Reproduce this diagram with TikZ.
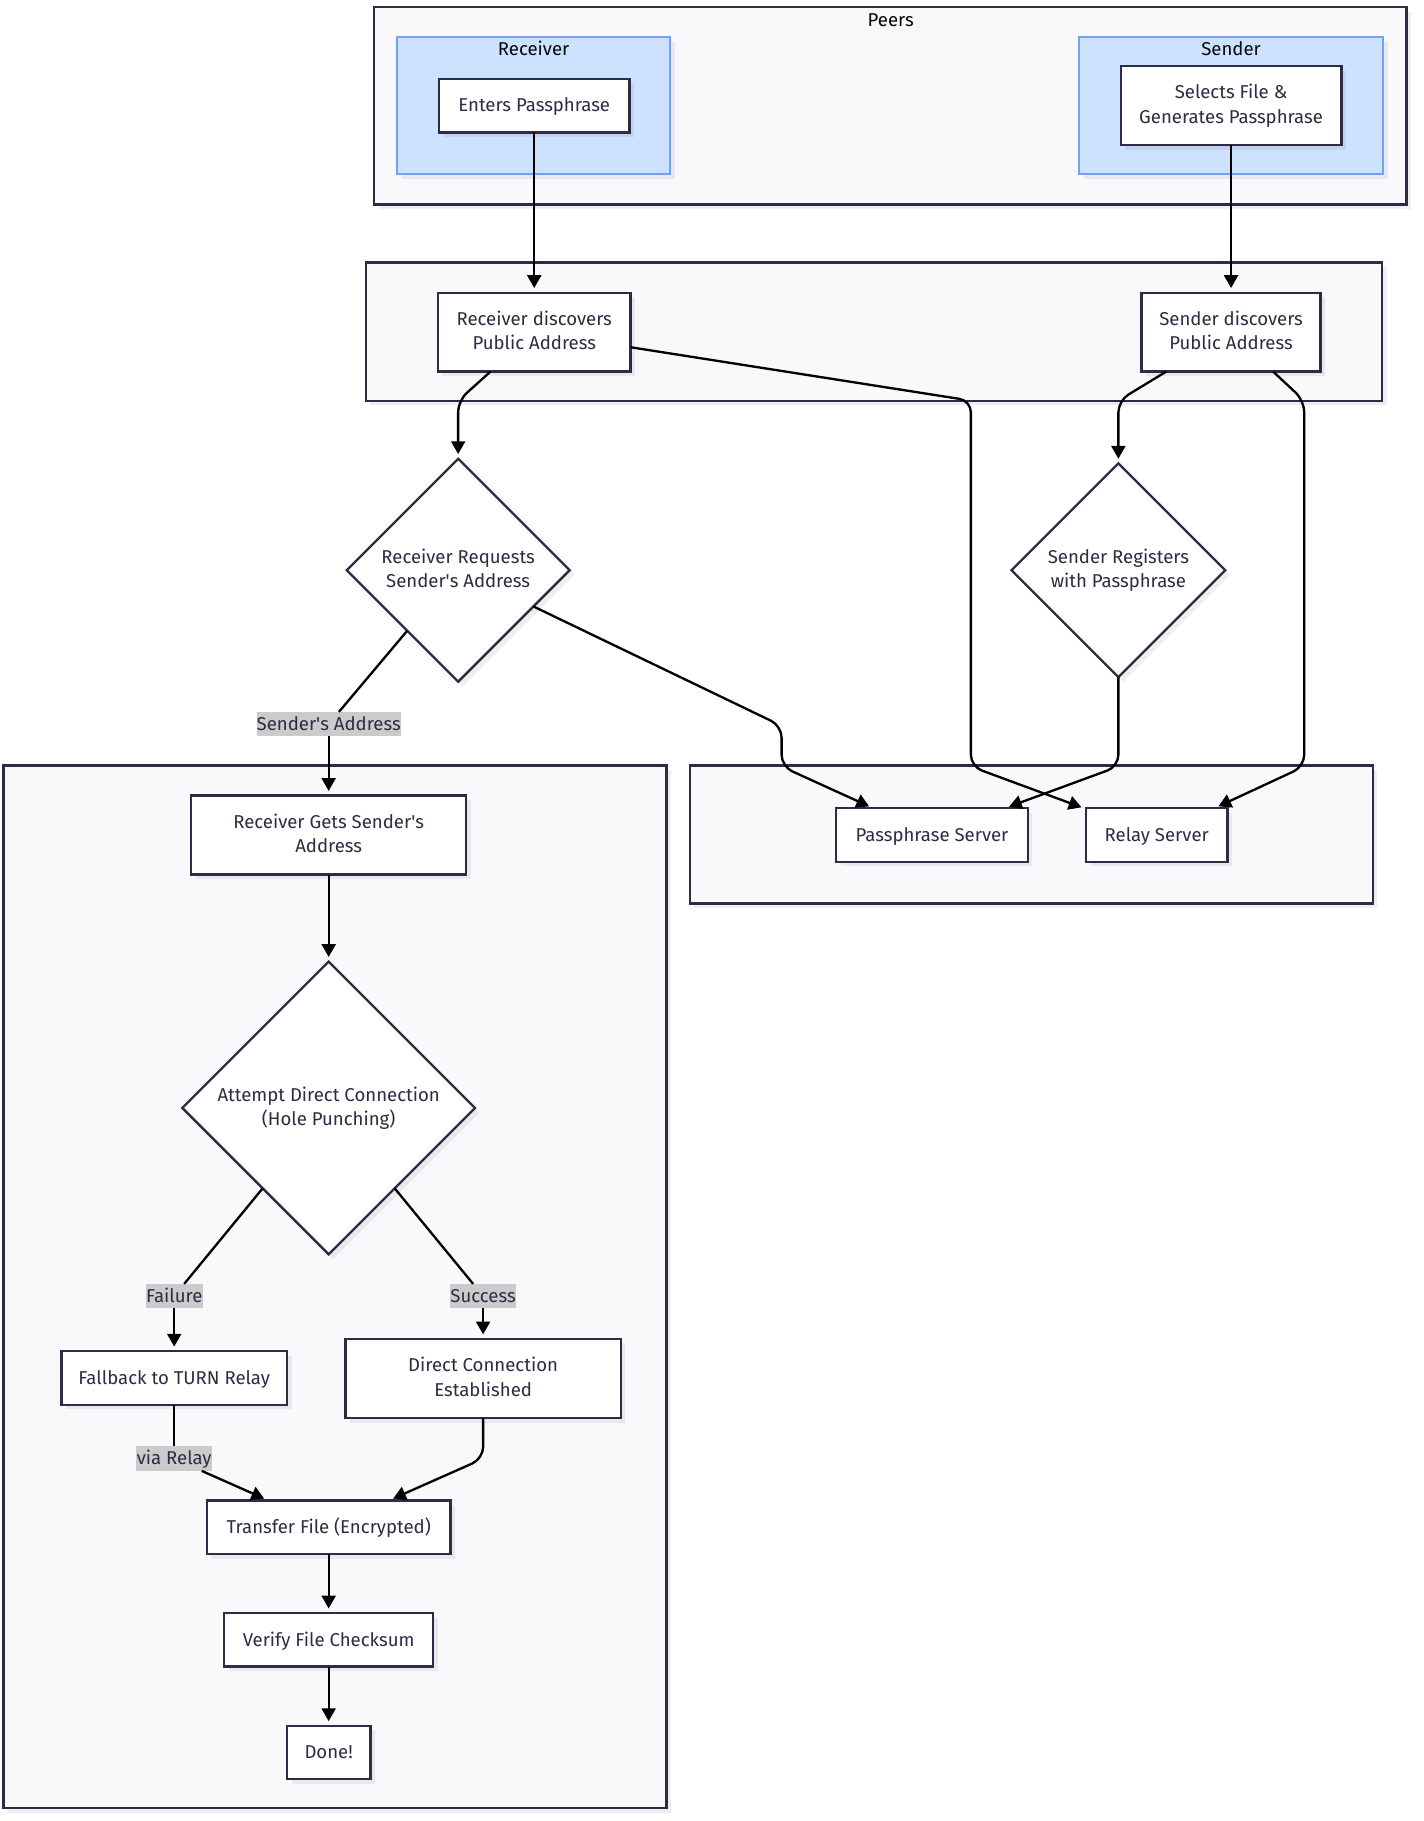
\documentclass[tikz,border=0pt]{standalone}
\usepackage{fontspec}
\setmainfont{Fira Sans}
\usetikzlibrary{
    arrows.meta,
    shadows,
    shapes.geometric
}
\definecolor{inkdark}{HTML}{2C2C44}
\definecolor{groupfill}{HTML}{F9F9FC}
\definecolor{peerfill}{HTML}{CCE2FF}
\definecolor{peerline}{HTML}{74A2F2}
\definecolor{labelfill}{HTML}{CBCBCB}
\tikzset{
    softshadow/.style = {
        drop shadow = {shadow xshift = 4pt, shadow yshift = -4pt, fill = inkdark, opacity = 0.08}
    },
    every node/.style = {
        outer sep = 0pt,
        inner sep = 0pt,
        align = center,
        text = inkdark,
        font = \fontsize{16}{21}\selectfont,
        execute at begin node = {\rule{0pt}{14pt}},
        execute at end node = {\rule[-3pt]{0pt}{3pt}}
    },
    groupbox/.style = {
        draw = inkdark,
        line width = 2pt,
        fill = groupfill,
        softshadow
    },
    peerbox/.style = {
        draw = peerline,
        line width = 2pt,
        fill = peerfill,
        softshadow
    },
    procbox/.style = {
        draw = inkdark,
        line width = 2pt,
        fill = white,
        softshadow
    },
    choicebox/.style = {
        procbox,
        shape = diamond,
        aspect = 1
    },
    titletext/.style = {
        text = black!85!inkdark
    },
    edgelabel/.style = {
        fill = labelfill,
        minimum height = 21pt
    },
    edgeline/.style = {
        draw = black,
        line width = 2pt,
        rounded corners = 10pt
    },
    flow/.style = {
        edgeline,
        -{Triangle[length = 11pt, width = 12pt]},
        shorten > = 4pt
    }
}

\begin{document}
\begin{tikzpicture}[x = 1pt, y = -1pt]

    \useasboundingbox (0, 0) rectangle (1225.3, 1568);

    \node[groupbox, minimum width = 889pt, minimum height = 170pt] (peers) at (766.5, 91) {};
    \node[titletext] (peersTitle) at (767, 17) {Peers};
    \node[peerbox, minimum width = 235pt, minimum height = 118pt] (receiver) at (459.5, 91) {};
    \node[titletext] (receiverTitle) at (459.5, 42) {Receiver};
    \node[peerbox, minimum width = 262pt, minimum height = 118pt] (sender) at (1060, 91) {};
    \node[titletext] (senderTitle) at (1060, 42) {Sender};

    \node[groupbox, minimum width = 875pt, minimum height = 119pt] (discovery) at (752.5, 285.5) {};
    \node[groupbox, minimum width = 588pt, minimum height = 119pt] (servers) at (888, 718.5) {};
    \node[groupbox, minimum width = 571pt, minimum height = 898pt] (transfer) at (288.5, 1108) {};

    \node[procbox, minimum width = 164pt, minimum height = 46pt] (enters) at (460, 91) {Enters Passphrase};
    \node[procbox, minimum width = 190pt, minimum height = 68pt] (selects) at (1060, 91) {Selects File \&\\Generates Passphrase};
    \node[procbox, minimum width = 166pt, minimum height = 68pt] (recvDisc) at (460, 286) {Receiver discovers\\Public Address};
    \node[procbox, minimum width = 154pt, minimum height = 68pt] (sendDisc) at (1060, 286) {Sender discovers\\Public Address};

    \node[choicebox, minimum width = 192pt, minimum height = 192pt] (recvReq) at (394.5, 491) {Receiver Requests\\Sender\textquotesingle s Address};
    \node[choicebox, minimum width = 184pt, minimum height = 184pt] (sendReg) at (963, 491) {Sender Registers\\with Passphrase};

    \node[procbox, minimum width = 165pt, minimum height = 46pt] (passServer) at (802.5, 719) {Passphrase Server};
    \node[procbox, minimum width = 122pt, minimum height = 46pt] (relayServer) at (996, 719) {Relay Server};

    \node[procbox, minimum width = 237pt, minimum height = 68pt] (recvGets) at (283, 719) {Receiver Gets Sender\textquotesingle s\\Address};
    \node[choicebox, minimum width = 252pt, minimum height = 252pt] (attempt) at (283, 954) {Attempt Direct Connection\\(Hole Punching)};
    \node[procbox, minimum width = 194pt, minimum height = 46pt] (fallback) at (150, 1186.5) {Fallback to TURN Relay};
    \node[procbox, minimum width = 237pt, minimum height = 68pt] (direct) at (416, 1187) {Direct Connection\\Established};
    \node[procbox, minimum width = 210pt, minimum height = 46pt] (transferFile) at (283, 1315) {Transfer File (Encrypted)};
    \node[procbox, minimum width = 180pt, minimum height = 46pt] (verify) at (283, 1412) {Verify File Checksum};
    \node[procbox, minimum width = 72pt, minimum height = 46pt] (done) at (283, 1509) {Done!};

    \node[edgelabel, minimum width = 122pt] (addrLabel) at (283, 623.5) {Sender\textquotesingle s Address};
    \node[edgelabel, minimum width = 49pt] (failLabel) at (150, 1116) {Failure};
    \node[edgelabel, minimum width = 55pt] (okLabel) at (416, 1116) {Success};
    \node[edgelabel, minimum width = 65pt] (viaLabel) at (150, 1256) {via Relay};

    \draw[flow] (enters) -- (recvDisc);
    \draw[flow] (selects) -- (sendDisc);

    \draw[flow] (recvDisc) -- (394.5, 345) -- (recvReq);
    \draw[flow] (recvDisc) -- (836, 345) -- (836, 660) -- (relayServer);
    \draw[flow] (sendDisc) -- (963, 345) -- (sendReg);
    \draw[flow] (sendDisc) -- (1123, 345) -- (1123, 660) -- (relayServer);
    \draw[flow] (recvReq) -- (673, 625) -- (673, 660) -- (passServer);
    \draw[flow] (sendReg) -- (963, 660) -- (passServer);

    \draw[edgeline] (recvReq) -- (addrLabel);
    \draw[flow] (addrLabel) -- (recvGets);
    \draw[flow] (recvGets) -- (attempt);

    \draw[edgeline] (attempt) -- (failLabel);
    \draw[flow] (failLabel) -- (fallback);
    \draw[edgeline] (attempt) -- (okLabel);
    \draw[flow] (okLabel) -- (direct);

    \draw[edgeline] (fallback) -- (viaLabel);
    \draw[flow] (viaLabel) -- (transferFile);
    \draw[flow] (direct) -- (416, 1256) -- (transferFile);

    \draw[flow] (transferFile) -- (verify);
    \draw[flow] (verify) -- (done);

\end{tikzpicture}
\end{document}
